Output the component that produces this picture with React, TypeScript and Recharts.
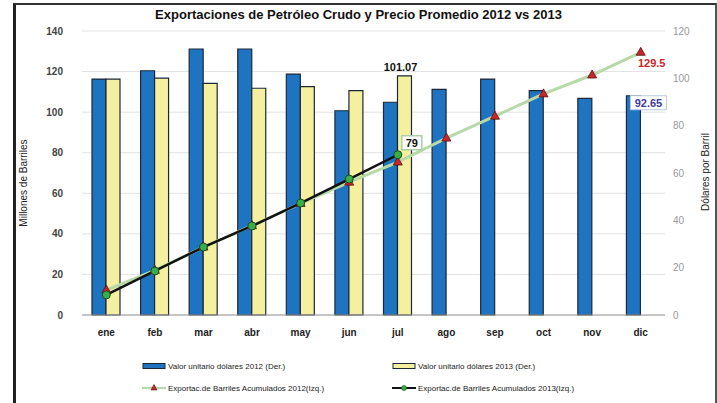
import { ComposedChart, Bar, Line, XAxis, YAxis, CartesianGrid, LabelList } from "recharts";

const meses = ["ene", "feb", "mar", "abr", "may", "jun", "jul", "ago", "sep", "oct", "nov", "dic"];
// precio promedio (dólares por barril, eje derecho)
const precio2012 = [99.7, 103.2, 112.4, 112.4, 101.8, 86.3, 89.9, 95.3, 99.7, 94.8, 91.5, 92.65];
const precio2013 = [99.7, 100.1, 97.9, 95.8, 96.5, 94.8, 101.07, null, null, null, null, null];
// exportación acumulada (millones de barriles, eje izquierdo)
const acumulado2012 = [12.3, 22, 33.5, 44, 55, 65.5, 75.4, 87.2, 98, 109, 118.3, 129.5];
const acumulado2013 = [9.9, 21.7, 33.5, 43.9, 55.2, 67, 79, null, null, null, null, null];
const ticksIzq = [0, 20, 40, 60, 80, 100, 120, 140];
const ticksDer = [0, 20, 40, 60, 80, 100, 120];

const data = meses.map((mes, i) => ({
  mes,
  p2012: precio2012[i],
  p2013: precio2013[i],
  a2012: acumulado2012[i],
  a2013: acumulado2013[i],
}));

const FONT = "'Liberation Sans', Arial, sans-serif";
const AZUL = "#1f74c2";
const AMARILLO = "#f5efa0";
const BORDE = "#1c2838";
const VERDE_CLARO = "#b7d9a8";
const ROJO = "#c8262a";
const VERDE = "#3aad48";

const Triangulo = (props: any) => {
  const { cx, cy, index } = props;
  if (cx == null || cy == null) return <g key={`t-${index}`} />;
  return (
    <polygon
      key={`t-${index}`}
      points={`${cx},${cy - 5} ${cx + 4.5},${cy + 3} ${cx - 4.5},${cy + 3}`}
      fill={ROJO}
      stroke="#5a1010"
      strokeWidth={0.8}
    />
  );
};

const Circulo = (props: any) => {
  const { cx, cy, index } = props;
  if (cx == null || cy == null) return <g key={`c-${index}`} />;
  return <circle key={`c-${index}`} cx={cx} cy={cy} r={4} fill={VERDE} stroke="#1d4a20" strokeWidth={1} />;
};

const etiquetaJul2013 = (props: any) => {
  const { x, y, width, index, value } = props;
  if (index !== 6) return null;
  return (
    <text x={x + width / 2 - 4} y={y - 5} textAnchor="middle" fontSize={11} fontWeight="bold" fill="#111" fontFamily={FONT}>
      {value}
    </text>
  );
};

const etiquetaDic2012 = (props: any) => {
  const { x, y, index, value } = props;
  if (index !== 11) return null;
  return (
    <g>
      <rect x={x + 4} y={y} width={36} height={14} fill="#fff" stroke="#b8c8e0" strokeWidth={1} />
      <text x={x + 22} y={y + 11} textAnchor="middle" fontSize={11} fontWeight="bold" fill="#3a3aa0" fontFamily={FONT}>
        {value}
      </text>
    </g>
  );
};

const etiquetaAcum2012 = (props: any) => {
  const { x, y, index, value } = props;
  if (index !== 11) return null;
  return (
    <text x={x + 11} y={y + 15} textAnchor="middle" fontSize={11} fontWeight="bold" fill={ROJO} fontFamily={FONT}>
      {value}
    </text>
  );
};

const etiquetaAcum2013 = (props: any) => {
  const { x, y, index, value } = props;
  if (index !== 6) return null;
  return (
    <g>
      <rect x={x + 4} y={y - 19} width={20} height={14} fill="#fff" stroke="#a8cfa8" strokeWidth={1.5} />
      <text x={x + 14} y={y - 8} textAnchor="middle" fontSize={11} fontWeight="bold" fill="#111" fontFamily={FONT}>
        {value}
      </text>
    </g>
  );
};

const leyenda = [
  { texto: "Valor unitario dólares 2012 (Der.)", tipo: "bar", color: AZUL, x: 142, y: 366 },
  { texto: "Valor unitario dólares 2013 (Der.)", tipo: "bar", color: AMARILLO, x: 392, y: 366 },
  { texto: "Exportac.de Barriles Acumulados 2012(Izq.)", tipo: "tri", color: VERDE_CLARO, x: 142, y: 388 },
  { texto: "Exportac.de Barriles Acumulados 2013(Izq.)", tipo: "cir", color: "#111", x: 392, y: 388 },
];

export default function App() {
  return (
    <div style={{ position: "absolute", left: 0, top: 0, width: 717, height: 403, background: "#fff", overflow: "hidden", fontFamily: FONT }}>
      <div
        style={{
          position: "absolute",
          left: 13,
          top: 3,
          width: 699,
          height: 410,
          borderLeft: "3px solid #222",
          borderTop: "2px solid #333",
          borderRight: "2px solid #555",
        }}
      />
      <div style={{ position: "absolute", left: 0, width: 717, top: 7, textAlign: "center", fontSize: 13, fontWeight: "bold", color: "#111" }}>
        Exportaciones de Petróleo Crudo y Precio Promedio 2012 vs 2013
      </div>
      <div style={{ position: "absolute", left: 23, top: 183, transform: "translate(-50%, -50%) rotate(-90deg)", fontSize: 10, color: "#222", whiteSpace: "nowrap" }}>
        Millones de Barriles
      </div>
      <div style={{ position: "absolute", left: 705, top: 172, transform: "translate(-50%, -50%) rotate(-90deg)", fontSize: 10, color: "#222", whiteSpace: "nowrap" }}>
        Dólares por Barril
      </div>
      <div style={{ position: "absolute", left: 0, top: 0 }}>
        <ComposedChart width={717} height={403} data={data} margin={{ top: 31, right: 12, left: 22, bottom: 58 }} barGap={0} barCategoryGap="20%">
          <CartesianGrid yAxisId="izq" vertical={false} stroke="#e2e2e2" />
          <XAxis
            dataKey="mes"
            height={30}
            tickLine={false}
            axisLine={{ stroke: "#999" }}
            tickMargin={8}
            tick={{ fontSize: 10, fontWeight: "bold", fill: "#222", fontFamily: FONT }}
          />
          <YAxis
            yAxisId="izq"
            orientation="left"
            width={60}
            domain={[0, 140]}
            ticks={ticksIzq}
            axisLine={false}
            tickLine={false}
            tickMargin={13}
            tick={{ fontSize: 10, fontWeight: "bold", fill: "#444", fontFamily: FONT }}
          />
          <YAxis
            yAxisId="der"
            orientation="right"
            width={40}
            domain={[0, 120]}
            ticks={ticksDer}
            axisLine={false}
            tickLine={false}
            tickMargin={2}
            tick={{ fontSize: 10, fill: "#999", fontFamily: FONT }}
          />
          <Bar yAxisId="der" dataKey="p2012" fill={AZUL} stroke={BORDE} strokeWidth={1.2} barSize={14} isAnimationActive={false}>
            <LabelList dataKey="p2012" content={etiquetaDic2012} />
          </Bar>
          <Bar yAxisId="der" dataKey="p2013" fill={AMARILLO} stroke={BORDE} strokeWidth={1.2} barSize={14} isAnimationActive={false}>
            <LabelList dataKey="p2013" content={etiquetaJul2013} />
          </Bar>
          <Line yAxisId="izq" type="linear" dataKey="a2012" stroke={VERDE_CLARO} strokeWidth={3} dot={Triangulo} activeDot={false} isAnimationActive={false}>
            <LabelList dataKey="a2012" content={etiquetaAcum2012} />
          </Line>
          <Line yAxisId="izq" type="linear" dataKey="a2013" stroke="#111" strokeWidth={2.5} dot={Circulo} activeDot={false} isAnimationActive={false}>
            <LabelList dataKey="a2013" content={etiquetaAcum2013} />
          </Line>
        </ComposedChart>
      </div>
      {leyenda.map((l) => (
        <div key={l.texto} style={{ position: "absolute", left: l.x, top: l.y - 6, height: 12, display: "flex", alignItems: "center", fontSize: 8, color: "#222", whiteSpace: "nowrap" }}>
          <svg width={24} height={12} style={{ marginRight: 2 }}>
            {l.tipo === "bar" && <rect x={1} y={3.5} width={22} height={5} fill={l.color} stroke={BORDE} strokeWidth={1} />}
            {l.tipo === "tri" && (
              <g>
                <line x1={0} y1={6} x2={24} y2={6} stroke={VERDE_CLARO} strokeWidth={2} />
                <polygon points="12,2.5 15,8 9,8" fill={ROJO} stroke="#5a1010" strokeWidth={0.6} />
              </g>
            )}
            {l.tipo === "cir" && (
              <g>
                <line x1={0} y1={6} x2={24} y2={6} stroke="#111" strokeWidth={2} />
                <circle cx={12} cy={6} r={2.5} fill={VERDE} stroke="#1d4a20" strokeWidth={0.6} />
              </g>
            )}
          </svg>
          {l.texto}
        </div>
      ))}
    </div>
  );
}
